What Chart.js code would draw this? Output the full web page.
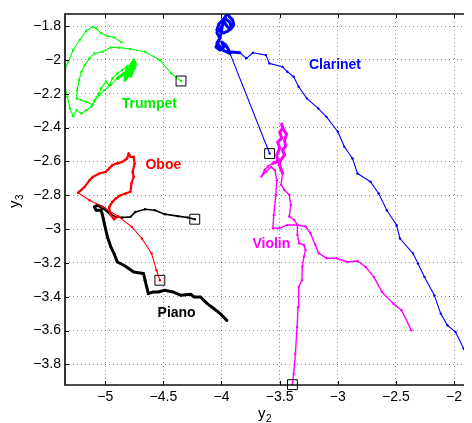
<!DOCTYPE html>
<html>
<head>
<meta charset="utf-8">
<script src="https://cdn.jsdelivr.net/npm/chart.js@4.4.1/dist/chart.umd.min.js"></script>
<style>
  html, body { margin: 0; padding: 0; background: #fff; }
  canvas { display: block; }
</style>
</head>
<body>
<canvas id="chart" width="472" height="423"></canvas>
<script>
// Trajectories in the (y2, y3) plane, one per instrument. First point = onset (boxed).
var trumpetX = [-4.348, -4.432, -4.531, -4.657, -4.784, -4.882, -4.952, -5.022, -5.093, -5.135,
  -5.177, -5.205, -5.225, -5.242, -5.247, -5.205, -5.163, -5.107, -5.093, -5.051,
  -5.036, -4.994, -4.966, -4.938, -4.896, -4.854, -4.812,
  -4.831, -4.798, -4.815, -4.772, -4.789, -4.747, -4.764, -4.739, -4.781, -4.755,
  -4.772, -4.823, -4.747, -4.789, -4.764, -4.806,
  -4.840, -4.896, -4.952, -5.008, -5.051, -5.093, -5.121, -5.163, -5.205, -5.247,
  -5.275, -5.304, -5.326, -5.346, -5.346, -5.318, -5.276, -5.219, -5.163, -5.107,
  -5.079, -5.036, -4.980, -4.924, -4.859];
var trumpetY = [-2.125, -2.080, -2.001, -1.952, -1.936, -1.928, -1.926, -1.952, -1.962, -1.991,
  -2.031, -2.070, -2.120, -2.179, -2.228, -2.238, -2.248, -2.267, -2.238, -2.198,
  -2.169, -2.129, -2.149, -2.110, -2.080, -2.060, -2.041,
  -2.120, -2.072, -2.108, -2.037, -2.084, -2.013, -2.060, -2.025, -2.096, -2.001,
  -2.072, -2.096, -2.049, -2.037, -2.013, -2.084,
  -2.080, -2.110, -2.149, -2.179, -2.208, -2.248, -2.277, -2.297, -2.317, -2.297,
  -2.333, -2.287, -2.218, -2.159, -2.056, -2.011, -1.942, -1.883, -1.828, -1.804,
  -1.814, -1.843, -1.859, -1.867, -1.897];

var clarinetX = [-3.586, -3.927, -3.988, -4.039, -4.013, -4.039, -4.030,
  -4.039, -4.022, -3.988, -3.963, -3.946, -3.929, -3.904, -3.895, -3.921, -3.946,
  -3.971, -3.997, -4.013, -3.980, -3.946, -3.912, -3.929, -3.963, -3.988, -4.005,
  -4.013, -4.047, -4.013, -3.980, -3.997, -3.963, -3.938, -3.940,
  -3.842, -3.786, -3.729, -3.617, -3.589, -3.476, -3.434, -3.379, -3.336, -3.266,
  -3.168, -3.097, -2.999, -2.943, -2.873, -2.830, -2.718, -2.648, -2.578, -2.493,
  -2.465, -2.352, -2.310, -2.254, -2.169, -2.114, -2.057, -1.987, -1.917, -1.863];
var clarinetY = [-2.554, -1.962, -1.942, -1.901, -1.871, -1.841, -1.806,
  -1.824, -1.788, -1.764, -1.741, -1.729, -1.747, -1.764, -1.794, -1.818, -1.806,
  -1.782, -1.800, -1.830, -1.841, -1.830, -1.812, -1.776, -1.759, -1.782, -1.847,
  -1.871, -1.924, -1.942, -1.924, -1.895, -1.912, -1.942, -1.952,
  -1.958, -1.991, -1.958, -1.972, -2.021, -2.041, -2.070, -2.100, -2.159, -2.228,
  -2.287, -2.337, -2.425, -2.514, -2.583, -2.672, -2.721, -2.790, -2.889, -2.978,
  -3.056, -3.145, -3.204, -3.283, -3.392, -3.500, -3.569, -3.609, -3.707, -3.776];

var oboeX = [-4.530, -4.559, -4.601, -4.685, -4.770, -4.882, -5.023, -5.135, -5.234,
  -5.177, -5.135, -5.107, -5.051, -4.994, -4.966, -4.938, -4.896, -4.854, -4.812,
  -4.798, -4.783, -4.755, -4.747, -4.764, -4.755, -4.775, -4.783, -4.825, -4.868,
  -4.910, -4.938, -4.966, -4.958, -4.924, -4.890];
var oboeY = [-3.303, -3.244, -3.145, -3.056, -2.988, -2.928, -2.869, -2.830, -2.786,
  -2.751, -2.711, -2.692, -2.672, -2.662, -2.642, -2.622, -2.612, -2.603, -2.583,
  -2.553, -2.573, -2.573, -2.612, -2.662, -2.692, -2.731, -2.780, -2.790, -2.800,
  -2.820, -2.840, -2.871, -2.912, -2.942, -2.924];

var pianoX = [-4.230, -4.292, -4.376, -4.488, -4.573, -4.657, -4.741, -4.783, -4.854, -4.910, -4.952,
  -5.008, -5.065, -5.093, -5.078, -5.036, -5.023, -5.008, -4.981, -4.966, -4.952,
  -4.924, -4.896, -4.840, -4.798, -4.755, -4.671, -4.657, -4.643, -4.629, -4.587,
  -4.545, -4.488, -4.418, -4.348, -4.264, -4.235, -4.180, -4.123, -4.067, -4.011, -3.954];
var pianoY = [-2.942, -2.932, -2.924, -2.912, -2.889, -2.883, -2.899, -2.928, -2.932, -2.928, -2.912,
  -2.879, -2.859, -2.869, -2.889, -2.889, -2.918, -2.967, -3.047, -3.076, -3.106,
  -3.145, -3.195, -3.214, -3.234, -3.254, -3.263, -3.303, -3.343, -3.382, -3.372,
  -3.372, -3.362, -3.372, -3.392, -3.386, -3.402, -3.402, -3.441, -3.470, -3.500, -3.540];

var violinX = [-3.390, -3.379, -3.364, -3.350, -3.341, -3.336, -3.308, -3.305, -3.291, -3.277,
  -3.291, -3.333, -3.347, -3.347, -3.432, -3.502, -3.558, -3.550, -3.533, -3.524,
  -3.541, -3.573, -3.615, -3.657, -3.628, -3.600, -3.558, -3.516,
  -3.524, -3.499, -3.516, -3.482, -3.499, -3.474, -3.482, -3.465, -3.440, -3.457,
  -3.449, -3.474, -3.457, -3.491,
  -3.502, -3.474, -3.488, -3.460, -3.417, -3.404, -3.417, -3.375, -3.347,
  -3.277, -3.235, -3.193, -3.164, -3.094, -3.010, -2.915, -2.830, -2.760, -2.690,
  -2.620, -2.521, -2.451, -2.367];
var violinY = [-3.920, -3.855, -3.737, -3.579, -3.461, -3.343, -3.303, -3.222, -3.163, -3.124,
  -3.094, -3.084, -3.035, -2.976, -2.976, -2.995, -2.995, -2.918, -2.800, -2.711,
  -2.652, -2.634, -2.660, -2.689, -2.650, -2.630, -2.611, -2.601,
  -2.563, -2.522, -2.486, -2.463, -2.427, -2.404, -2.380, -2.415, -2.439, -2.475,
  -2.510, -2.534, -2.563, -2.593,
  -2.621, -2.670, -2.739, -2.769, -2.798, -2.857, -2.926, -2.946, -2.976,
  -2.985, -3.025, -3.094, -3.143, -3.173, -3.173, -3.195, -3.189, -3.224, -3.283,
  -3.372, -3.441, -3.480, -3.599];

var xTicks = [-5, -4.5, -4, -3.5, -3, -2.5, -2];
var yTicks = [-1.8, -2, -2.2, -2.4, -2.6, -2.8, -3, -3.2, -3.4, -3.6, -3.8];

var FONT = "'Liberation Sans', Arial, Helvetica, sans-serif";

function toPoints(xs, ys) {
  var pts = [];
  for (var i = 0; i < xs.length; i++) pts.push({ x: xs[i], y: ys[i] });
  return pts;
}

// dotted trace; segments from..to are drawn heavier (dense/sustained parts)
function trace(name, xs, ys, color, base, heavy, from, to) {
  return {
    label: name,
    data: toPoints(xs, ys),
    showLine: true,
    borderColor: color,
    backgroundColor: color,
    borderWidth: base,
    borderJoinStyle: 'round',
    borderCapStyle: 'round',
    pointRadius: 1.2,
    pointBorderWidth: 0,
    pointBackgroundColor: color,
    segment: {
      borderWidth: function (c) {
        return (c.p0DataIndex >= from && c.p0DataIndex < to) ? heavy : base;
      }
    }
  };
}

var onsets = {
  label: 'onset',
  data: [
    { x: trumpetX[0], y: trumpetY[0] },
    { x: clarinetX[0], y: clarinetY[0] },
    { x: oboeX[0], y: oboeY[0] },
    { x: pianoX[0], y: pianoY[0] },
    { x: violinX[0], y: violinY[0] }
  ],
  showLine: false,
  pointStyle: 'rect',
  pointRadius: 7,
  pointBorderColor: '#000',
  pointBorderWidth: 1,
  pointBackgroundColor: 'rgba(0,0,0,0)',
  clip: false
};

// instrument name tags (data coordinates)
var tags = [
  { text: 'Trumpet', x: -4.620, y: -2.262, color: '#00ee00' },
  { text: 'Clarinet', x: -3.024, y: -2.031, color: '#0000ff' },
  { text: 'Oboe', x: -4.500, y: -2.624, color: '#ff0000' },
  { text: 'Piano', x: -4.386, y: -3.495, color: '#000000' },
  { text: 'Violin', x: -3.571, y: -3.089, color: '#ff00ff' }
];

function fmt(v) {
  return String(v).replace('-', '\u2212');
}

var frame = {
  id: 'frame',
  afterDatasetsDraw: function (chart) {
    var ctx = chart.ctx, sx = chart.scales.x, sy = chart.scales.y;
    ctx.save();
    ctx.font = 'bold 14px ' + FONT;
    ctx.textAlign = 'center';
    ctx.textBaseline = 'middle';
    tags.forEach(function (t) {
      ctx.fillStyle = t.color;
      ctx.fillText(t.text, sx.getPixelForValue(t.x), sy.getPixelForValue(t.y));
    });
    ctx.restore();
  },
  afterDraw: function (chart) {
    var ctx = chart.ctx, a = chart.chartArea, sx = chart.scales.x, sy = chart.scales.y;
    ctx.save();
    // inward tick marks
    ctx.strokeStyle = '#000';
    ctx.lineWidth = 1;
    ctx.beginPath();
    xTicks.forEach(function (v) {
      var px = Math.round(sx.getPixelForValue(v)) + 0.5;
      ctx.moveTo(px, a.bottom); ctx.lineTo(px, a.bottom - 4);
      ctx.moveTo(px, a.top); ctx.lineTo(px, a.top + 4);
    });
    yTicks.forEach(function (v) {
      var py = Math.round(sy.getPixelForValue(v)) + 0.5;
      ctx.moveTo(a.left, py); ctx.lineTo(a.left + 4, py);
    });
    ctx.stroke();
    // axes box (right side runs off the canvas)
    ctx.strokeStyle = '#111';
    ctx.lineWidth = 1.7;
    ctx.beginPath();
    ctx.moveTo(a.right, a.top);
    ctx.lineTo(a.left, a.top);
    ctx.lineTo(a.left, a.bottom);
    ctx.lineTo(a.right, a.bottom);
    ctx.stroke();
    // axis titles y2 / y3
    ctx.fillStyle = '#000';
    ctx.textBaseline = 'alphabetic';
    ctx.textAlign = 'left';
    ctx.font = '15px ' + FONT;
    ctx.fillText('y', 258, 418);
    ctx.font = '10px ' + FONT;
    ctx.fillText('2', 266, 422);
    ctx.translate(19, 208);
    ctx.rotate(-Math.PI / 2);
    ctx.font = '15px ' + FONT;
    ctx.fillText('y', 0, 0);
    ctx.font = '10px ' + FONT;
    ctx.fillText('3', 8, 4);
    ctx.restore();
  }
};

var tickFont = { family: FONT, size: 14 };

var chart = new Chart(document.getElementById('chart').getContext('2d'), {
  type: 'scatter',
  data: {
    datasets: [
      onsets,
      trace('Trumpet', trumpetX, trumpetY, '#00ff00', 1.1, 3, 26, 44),
      trace('Clarinet', clarinetX, clarinetY, '#0000ff', 1.1, 3, 1, 35),
      trace('Oboe', oboeX, oboeY, '#ff0000', 1.1, 2.2, 8, 99),
      trace('Piano', pianoX, pianoY, '#000000', 1.6, 3, 10, 99),
      trace('Violin', violinX, violinY, '#ff00ff', 1.4, 3, 26, 43)
    ]
  },
  options: {
    responsive: false,
    animation: false,
    events: [],
    layout: { padding: { top: 14, right: 0, left: 0, bottom: 0 } },
    plugins: { legend: { display: false }, tooltip: { enabled: false } },
    scales: {
      x: {
        type: 'linear',
        min: -5.346,
        max: -1.914,
        afterBuildTicks: function (s) { s.ticks = xTicks.map(function (v) { return { value: v }; }); },
        afterFit: function (s) { s.height = 38; s.paddingLeft = 0; s.paddingRight = 0; },
        ticks: { padding: 4, color: '#000', font: tickFont, autoSkip: false, maxRotation: 0, callback: fmt },
        grid: { color: 'rgba(0,0,0,0.45)', lineWidth: 1, drawTicks: false },
        border: { display: false, dash: [1, 3] }
      },
      y: {
        type: 'linear',
        min: -3.922,
        max: -1.729,
        afterBuildTicks: function (s) { s.ticks = yTicks.map(function (v) { return { value: v }; }); },
        afterFit: function (s) { s.width = 65; s.paddingTop = 0; s.paddingBottom = 0; },
        ticks: { padding: 4, color: '#000', font: tickFont, autoSkip: false, callback: fmt },
        grid: { color: 'rgba(0,0,0,0.45)', lineWidth: 1, drawTicks: false },
        border: { display: false, dash: [1, 3] }
      }
    }
  },
  plugins: [frame]
});
</script>
</body>
</html>
